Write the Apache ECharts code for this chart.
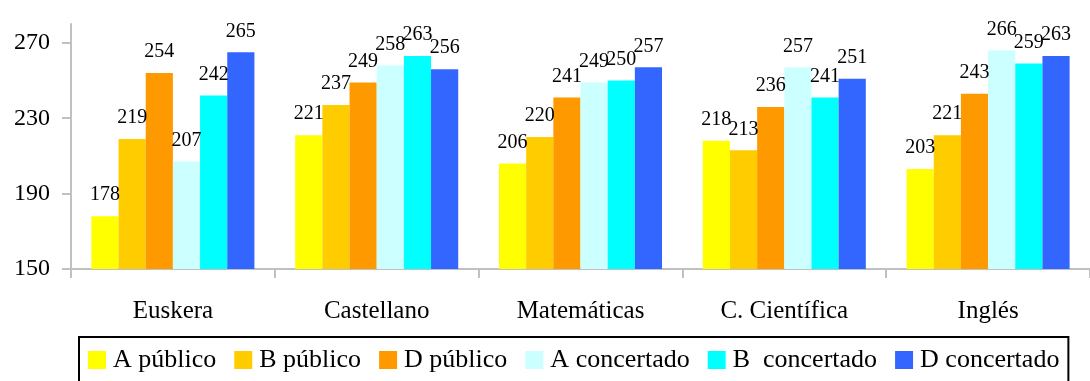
<!DOCTYPE html>
<html>
<head>
<meta charset="utf-8">
<script src="https://cdn.jsdelivr.net/npm/echarts@6/dist/echarts.min.js"></script>
<style>html,body{margin:0;padding:0;background:#fff;}#c{width:1090px;height:381px;}</style>
</head>
<body>
<div id="c"></div>
<script>
const categories = ['Euskera', 'Castellano', 'Matemáticas', 'C. Científica', 'Inglés'];
const seriesNames = ['A público', 'B público', 'D público', 'A concertado', 'B  concertado', 'D concertado'];
const aPublico = [178, 221, 206, 218, 203];
const bPublico = [219, 237, 220, 213, 221];
const dPublico = [254, 249, 241, 236, 243];
const aConcertado = [207, 258, 249, 257, 266];
const bConcertado = [242, 263, 250, 241, 259];
const dConcertado = [265, 256, 257, 251, 263];
const yTicks = [150, 190, 230, 270];

const colors = ['#FFFF00', '#FFCC00', '#FF9900', '#CCFFFF', '#00FFFF', '#3366FF'];
const values = [aPublico, bPublico, dPublico, aConcertado, bConcertado, dConcertado];
const font = '"Liberation Serif", "DejaVu Serif", serif';

const chart = echarts.init(document.getElementById('c'));
chart.setOption({
  animation: false,
  color: colors,
  textStyle: { fontFamily: font },
  grid: { left: 71, right: -10, top: 24, bottom: 112 },
  legend: {
    left: 79, top: 337,
    itemWidth: 18, itemHeight: 18, itemGap: 18,
    borderColor: '#000', borderWidth: 2,
    padding: [10, 9, 10, 9],
    icon: 'rect',
    textStyle: { fontFamily: font, fontSize: 26, color: '#000', padding: [0, 0, 0, 2] },
    data: seriesNames
  },
  xAxis: {
    type: 'category',
    data: categories,
    axisLine: { lineStyle: { color: '#C0C0C0', width: 2 } },
    axisTick: { show: true, length: 9, lineStyle: { color: '#C0C0C0', width: 2 } },
    axisLabel: { fontFamily: font, fontSize: 25, color: '#000', margin: 30 }
  },
  yAxis: {
    type: 'value', min: 150, max: 280, interval: 40,
    splitLine: { show: false },
    axisLine: { show: true, lineStyle: { color: '#C0C0C0', width: 2 } },
    axisTick: { show: true, length: 9, inside: false, customValues: yTicks, lineStyle: { color: '#C0C0C0', width: 2 } },
    axisLabel: { fontFamily: font, fontSize: 24, color: '#000', margin: 21, customValues: yTicks }
  },
  series: seriesNames.map((n, i) => ({
    name: n,
    type: 'bar',
    data: values[i],
    barGap: '0%',
    barCategoryGap: '20%',
    itemStyle: { color: colors[i] },
    label: { show: true, position: 'top', distance: 11, fontFamily: font, fontSize: 20, color: '#000' }
  }))
});
</script>
</body>
</html>
